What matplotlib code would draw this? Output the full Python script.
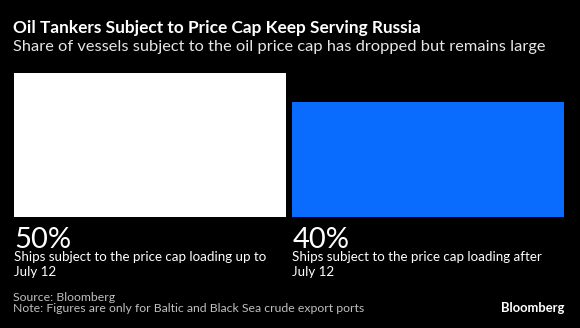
import matplotlib.pyplot as plt
import matplotlib.transforms as mtransforms

# data
categories = ["Ships subject to the price cap loading up to\nJuly 12",
              "Ships subject to the price cap loading after\nJuly 12"]
values = [50, 40]
value_labels = ["50%", "40%"]
colors = ["#ffffff", "#0a6cff"]

plt.rcParams['font.family'] = ['Lato', 'DejaVu Sans']

W, H = 580, 328
fig = plt.figure(figsize=(5.8, 3.28), dpi=100, facecolor='black')
ax = fig.add_axes([14 / W, 111 / H, 550 / W, 144 / H])
ax.set_facecolor('black')

w = 0.975
xs = list(range(len(values)))
ax.bar(xs, values, width=w, color=colors, align='center')
ax.set_xlim(-w / 2, xs[-1] + w / 2)
ax.set_ylim(0, max(values))
ax.axis('off')

# y in pixels from the top of the figure
trans = mtransforms.blended_transform_factory(ax.transData, fig.transFigure)
for x, lab, cat in zip(xs, value_labels, categories):
    ax.text(x - w / 2, 1 - 248 / H, lab, transform=trans, color='white',
            fontsize=21, va='baseline', ha='left')
    ax.text(x - w / 2, 1 - 251 / H, cat, transform=trans, color='white',
            fontsize=9.6, va='top', ha='left', linespacing=1.25)

fig.text(13 / W, 1 - 33 / H, "Oil Tankers Subject to Price Cap Keep Serving Russia",
         color='white', fontsize=12.4, fontweight='bold', va='baseline', ha='left')
fig.text(13 / W, 1 - 51 / H,
         "Share of vessels subject to the oil price cap has dropped but remains large",
         color='#e6e6e6', fontsize=11.8, va='baseline', ha='left')
fig.text(13 / W, 1 - 301 / H, "Source: Bloomberg", color='#bfbfbf',
         fontsize=8.8, va='baseline', ha='left')
fig.text(13 / W, 1 - 312 / H,
         "Note: Figures are only for Baltic and Black Sea crude export ports",
         color='#bfbfbf', fontsize=8.8, va='baseline', ha='left')
fig.text(564 / W, 1 - 312 / H, "Bloomberg", color='white',
         fontsize=9.4, fontweight='bold', va='baseline', ha='right')

fig.savefig('out.png', dpi=100, facecolor='black')
